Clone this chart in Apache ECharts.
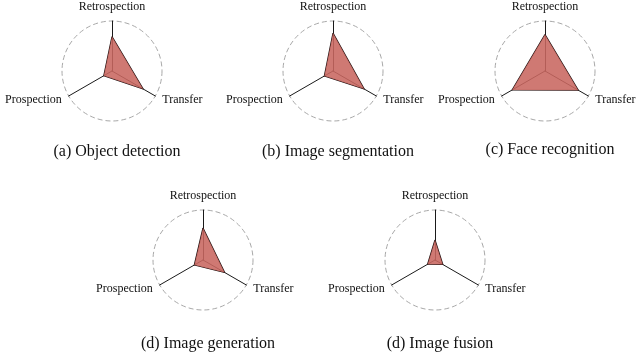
<!DOCTYPE html>
<html>
<head>
<meta charset="utf-8">
<script src="https://cdn.jsdelivr.net/npm/echarts@6/dist/echarts.min.js"></script>
<style>
html,body{margin:0;padding:0;background:#fff;}
#chart{width:640px;height:355px;}
</style>
</head>
<body>
<div id="chart"></div>
<script>
// Data
const indicators = ['Retrospection', 'Prospection', 'Transfer'];
const captions = ['(a) Object detection', '(b) Image segmentation', '(c) Face recognition', '(d) Image generation', '(d) Image fusion'];
const objectDetection = [0.69, 0.19, 0.72];
const imageSegmentation = [0.76, 0.2, 0.72];
const faceRecognition = [0.73, 0.76, 0.77];
const imageGeneration = [0.64, 0.2, 0.5];
const imageFusion = [0.4, 0.17, 0.18];
const seriesValues = [objectDetection, imageSegmentation, faceRecognition, imageGeneration, imageFusion];

// Layout
const centers = [[112, 71], [333, 71], [545, 71], [203, 260], [435, 260]];
const captionY = [139, 139, 137, 331, 331];
const R = 50;
const FONT = '"Liberation Serif", "Times New Roman", serif';

const chart = echarts.init(document.getElementById('chart'), null, {renderer: 'canvas'});

const radar = centers.map(c => ({
  center: c,
  radius: R,
  shape: 'circle',
  startAngle: 90,
  splitNumber: 1,
  indicator: indicators.map(n => ({name: n, min: 0, max: 1})),
  axisName: {color: '#111', fontSize: 12, fontFamily: FONT},
  nameGap: 8,
  axisLine: {lineStyle: {color: '#1a1a1a', width: 1}},
  axisTick: {show: false},
  axisLabel: {show: false},
  splitLine: {lineStyle: {color: '#a8a8a8', type: [5, 3], width: 1}},
  splitArea: {show: false}
}));

const series = seriesValues.map((v, i) => ({
  type: 'radar',
  radarIndex: i,
  symbol: 'none',
  silent: true,
  lineStyle: {color: '#1a0e0e', width: 1.2},
  areaStyle: {color: 'rgb(200,102,96)', opacity: 0.88},
  data: [{value: v}]
}));

const title = captions.map((t, i) => ({
  text: t,
  left: centers[i][0],
  top: captionY[i],
  textAlign: 'center',
  textStyle: {fontFamily: FONT, fontWeight: 'normal', fontSize: 16, color: '#111'}
}));

chart.setOption({
  animation: false,
  backgroundColor: '#fff',
  title: title,
  radar: radar,
  series: series
});
</script>
</body>
</html>
